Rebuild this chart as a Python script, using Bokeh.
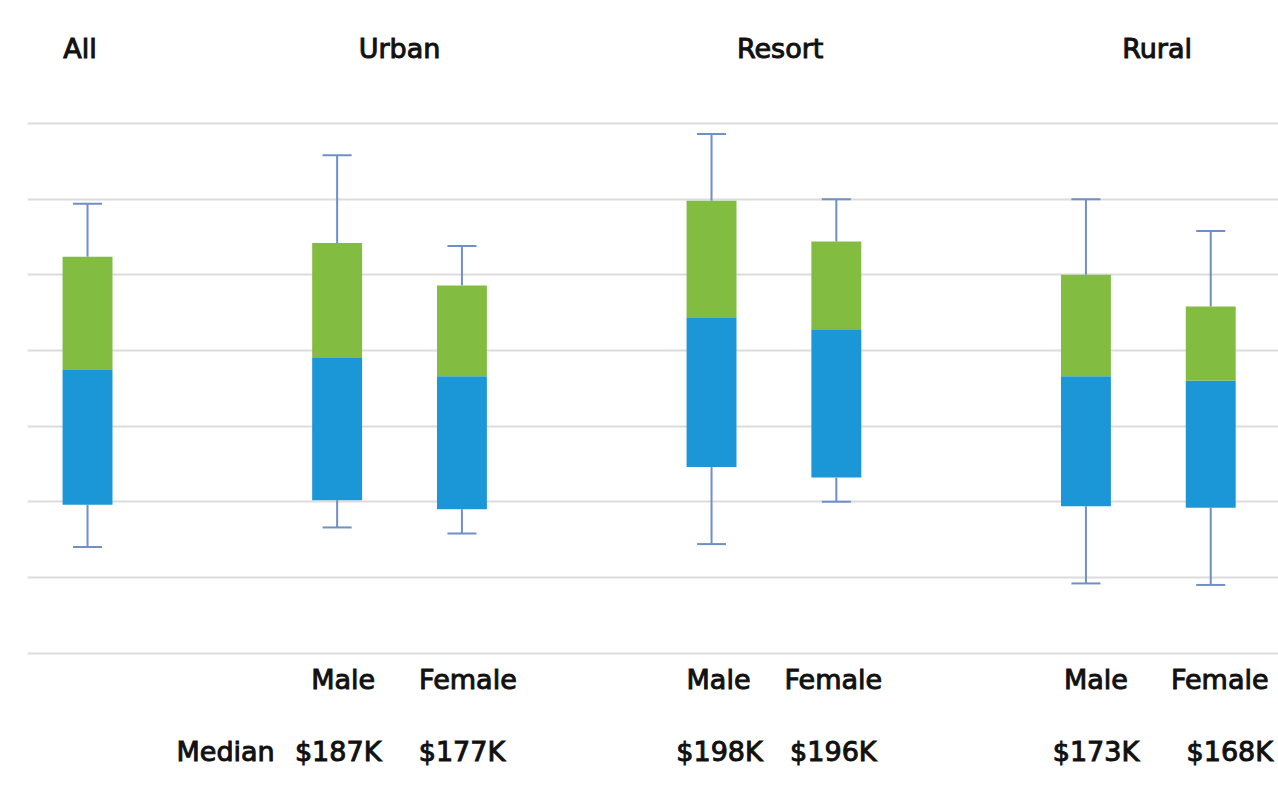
from bokeh.plotting import figure
from bokeh.models import FixedTicker, ColumnDataSource, Range1d
from bokeh.core.properties import value
from bokeh.embed import file_html
from bokeh.resources import INLINE

# ---- data (gridlines every 50) ----
groups = ["All", "Urban", "Resort", "Rural"]
box_names = ["All", "Urban Male", "Urban Female", "Resort Male", "Resort Female", "Rural Male", "Rural Female"]
box_slots = [0, 2, 3, 5, 6, 8, 9]
whisker_low = [70, 83, 79, 72, 100, 46, 45]
q1 = [98, 101, 95, 123, 116, 97, 96]
median = [187, 195, 183, 222, 214, 183, 180]
q3 = [262, 271, 243, 299, 272, 250, 229]
whisker_high = [297, 329, 269, 343, 300, 300, 279]
gender_labels = ["Male", "Female", "Male", "Female", "Male", "Female"]
median_labels = ["$187K", "$177K", "$198K", "$196K", "$173K", "$168K"]
grid_ticks = [0, 50, 100, 150, 200, 250, 300, 350]

# ---- layout constants ----
header_x = [-0.06, 2.5, 5.55, 8.57]
header_y = 399.5
gender_y = -17.5
median_y = -65
gender_dx = [6, 6, 7, -3, 10, 9]
median_dx = [1, 0, 8, -3, 10, 19]
FONT = value("DejaVu Sans")
BLUE = "#1b96d7"
GREEN = "#82bd42"
WHISK = "#6e8fc8"
TXT = "#111111"

p = figure(width=1278, height=802, output_backend="svg", toolbar_location=None,
           x_range=Range1d(-0.481, 9.543), y_range=Range1d(-98.8, 431.3),
           min_border_left=27, min_border_right=0, min_border_top=0, min_border_bottom=0)
p.outline_line_color = None
p.background_fill_color = "white"
p.border_fill_color = "white"
p.xaxis.visible = False
p.yaxis.visible = False
p.xgrid.visible = False
p.ygrid.ticker = FixedTicker(ticks=grid_ticks)
p.ygrid.grid_line_color = "#dcdcdc"
p.ygrid.grid_line_width = 2

src = ColumnDataSource(dict(x=box_slots, lo=whisker_low, q1=q1, med=median, q3=q3, hi=whisker_high, name=box_names))

# whiskers
p.segment(x0="x", y0="q3", x1="x", y1="hi", source=src, line_color=WHISK, line_width=2)
p.segment(x0="x", y0="lo", x1="x", y1="q1", source=src, line_color=WHISK, line_width=2)
p.dash(x="x", y="hi", size=29, source=src, line_color=WHISK, line_width=2)
p.dash(x="x", y="lo", size=29, source=src, line_color=WHISK, line_width=2)

# boxes
p.vbar(x="x", width=0.4, bottom="q1", top="med", source=src, fill_color=BLUE, line_color=None)
p.vbar(x="x", width=0.4, bottom="med", top="q3", source=src, fill_color=GREEN, line_color=None)

text_kw = dict(text_font=FONT, text_font_size="27px", text_baseline="alphabetic",
               text_color=TXT, text_outline_color=TXT)

# headers
p.text(x=header_x, y=[header_y] * len(groups), text=groups, text_align="center", **text_kw)

# gender labels + medians
gx = box_slots[1:]
gsrc = ColumnDataSource(dict(x=gx, gy=[gender_y] * len(gx), my=[median_y] * len(gx),
                             g=gender_labels, m=median_labels, gdx=gender_dx, mdx=median_dx))
p.text(x="x", y="gy", text="g", x_offset="gdx", source=gsrc, text_align="center", **text_kw)
p.text(x="x", y="my", text="m", x_offset="mdx", source=gsrc, text_align="center", **text_kw)
p.text(x=[1.5], y=[median_y], text=["Median"], text_align="right", **text_kw)

open("out.html", "w").write(file_html(p, INLINE))
